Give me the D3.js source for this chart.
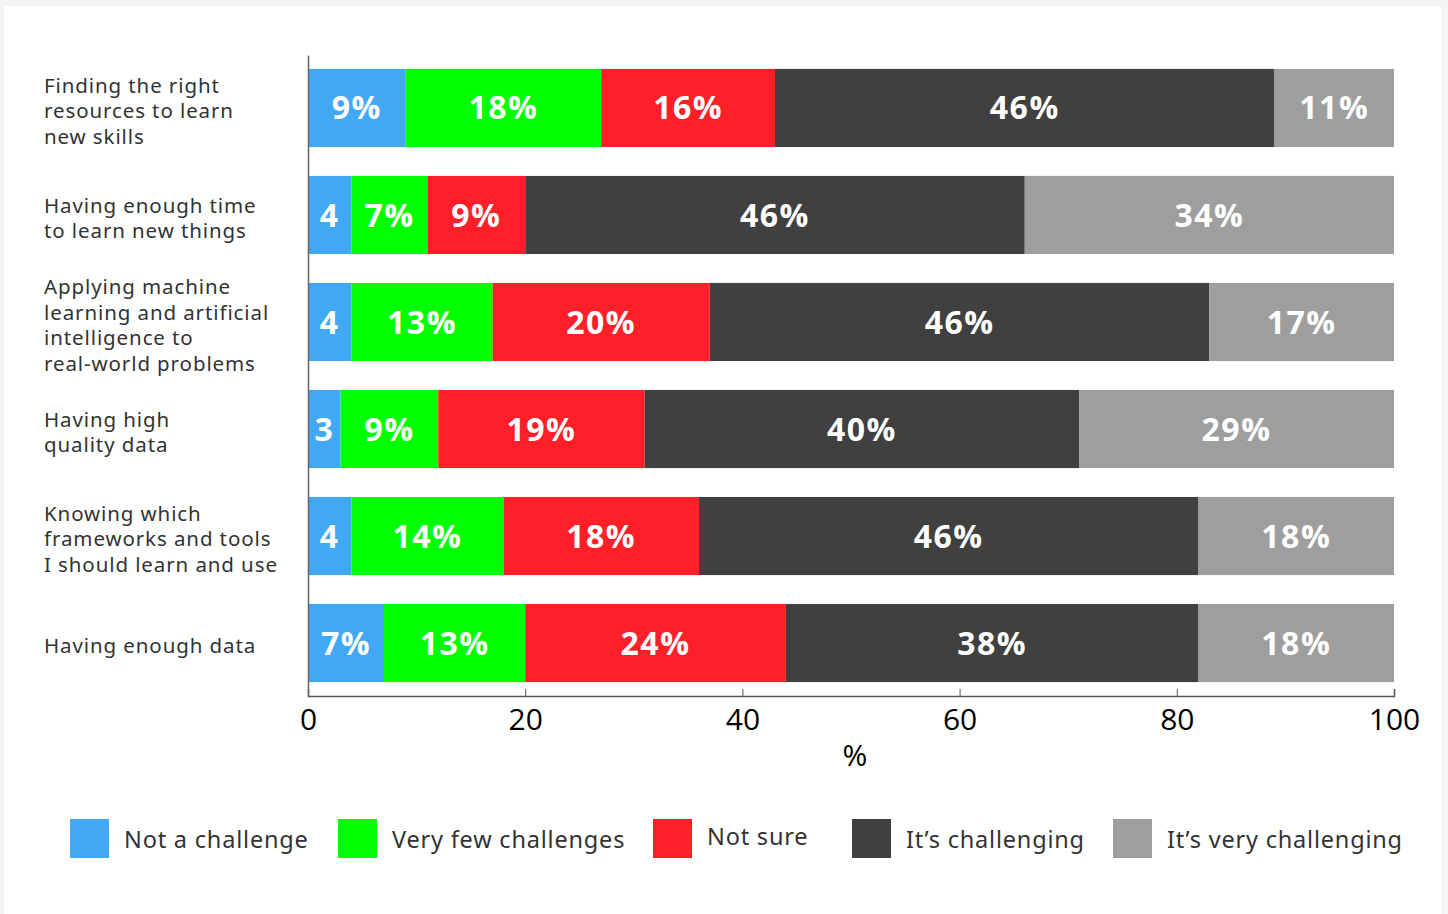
<!DOCTYPE html>
<html lang="en">
<head>
<meta charset="utf-8">
<title>ML challenges</title>
<script src="https://d3js.org/d3.v7.min.js"></script>
<style>
  body { margin: 0; background: #f5f5f5; }
  .ylab { font-family: "Noto Sans", sans-serif; font-size: 20.5px; letter-spacing: 0.9px; fill: #333; }
  .seg { font-family: "Open Sans", sans-serif; font-weight: 700; font-size: 32px; letter-spacing: 1.5px; fill: #fff; }
  .tick text { font-family: "Open Sans", sans-serif; font-size: 30px; fill: #000; }
  .leg { font-family: "Noto Sans", sans-serif; font-size: 23.5px; letter-spacing: 0.8px; fill: #333; }
</style>
</head>
<body>
<script>
// data
const categories = [
  ["Finding the right", "resources to learn", "new skills"],
  ["Having enough time", "to learn new things"],
  ["Applying machine", "learning and artificial", "intelligence to", "real-world problems"],
  ["Having high", "quality data"],
  ["Knowing which", "frameworks and tools", "I should learn and use"],
  ["Having enough data"]
];
const seriesNames = ["Not a challenge", "Very few challenges", "Not sure", "It\u2019s challenging", "It\u2019s very challenging"];
const colors = ["#42a8f4", "#00ff00", "#ff1f28", "#404040", "#9e9e9e"];
const notAChallenge = [9, 4, 4, 3, 4, 7];
const veryFew = [18, 7, 13, 9, 14, 13];
const notSure = [16, 9, 20, 19, 18, 24];
const challenging = [46, 46, 46, 40, 46, 38];
const veryChallenging = [11, 34, 17, 29, 18, 18];
const xTicks = [0, 20, 40, 60, 80, 100];

const allSeries = [notAChallenge, veryFew, notSure, challenging, veryChallenging];

const W = 1448, H = 914;
const svg = d3.select("body").append("svg").attr("width", W).attr("height", H);
svg.append("rect").attr("x", 4).attr("y", 6).attr("width", 1437).attr("height", H - 6).attr("fill", "#fff");

const x = d3.scaleLinear().domain([0, 100]).range([308, 1394]);
const y = d3.scaleBand().domain(d3.range(categories.length)).range([55, 696])
  .paddingInner(0.27).paddingOuter(0.13);

// rows for the stack
const rows = categories.map((c, i) => {
  const r = { i: i };
  seriesNames.forEach((s, k) => r[s] = allSeries[k][i]);
  return r;
});
const stack = d3.stack().keys(seriesNames)(rows);

const layers = svg.selectAll("g.layer").data(stack).enter().append("g")
  .attr("class", "layer").attr("fill", (d, k) => colors[k]);

layers.selectAll("rect").data(d => d).enter().append("rect")
  .attr("x", d => x(d[0]))
  .attr("y", d => y(d.data.i))
  .attr("width", d => x(d[1]) - x(d[0]))
  .attr("height", y.bandwidth());

layers.selectAll("text").data(d => d.map(p => ({ p: p, key: d.key }))).enter().append("text")
  .attr("class", "seg")
  .attr("x", d => (x(d.p[0]) + x(d.p[1])) / 2)
  .attr("y", d => y(d.p.data.i) + y.bandwidth() / 2)
  .attr("text-anchor", "middle")
  .attr("dy", "0.36em")
  .text(d => {
    const v = d.p.data[d.key];
    return v < 5 ? v : v + "%";
  });

// x axis
const xAxis = svg.append("g").attr("transform", "translate(0,696)")
  .call(d3.axisBottom(x).tickValues(xTicks).tickSizeInner(-7).tickSizeOuter(-7).tickPadding(13));
xAxis.select(".domain").attr("stroke", "#555").attr("stroke-width", 1.5);
xAxis.selectAll(".tick line").attr("stroke", "#555");

svg.append("text").attr("x", 855).attr("y", 766).attr("text-anchor", "middle")
  .style("font-family", "Open Sans, sans-serif").style("font-size", "30px").text("%");

// y axis line
const yAxis = svg.append("g").attr("transform", "translate(308,0)")
  .call(d3.axisLeft(y).tickSize(0).tickFormat(""));
yAxis.select(".domain").attr("stroke", "#666").attr("stroke-width", 1.5);

// category labels
const lh = 25.5;
categories.forEach((lines, i) => {
  const cy = y(i) + y.bandwidth() / 2 + 3;
  const t = svg.append("text").attr("class", "ylab").attr("x", 44);
  lines.forEach((ln, j) => {
    t.append("tspan").attr("x", 44)
      .attr("y", cy + (j - (lines.length - 1) / 2) * lh)
      .attr("dy", "0.36em").text(ln);
  });
});

// legend
const legX = [70, 338, 653, 852, 1113];
const leg = svg.selectAll("g.legitem").data(seriesNames).enter().append("g")
  .attr("transform", (d, k) => `translate(${legX[k]},819)`);
leg.append("rect").attr("width", 39).attr("height", 39).attr("fill", (d, k) => colors[k]);
leg.append("text").attr("class", "leg").attr("x", 54).attr("y", (d, k) => k === 2 ? 18 : 21)
  .attr("dy", "0.36em").text(d => d);
</script>
</body>
</html>
